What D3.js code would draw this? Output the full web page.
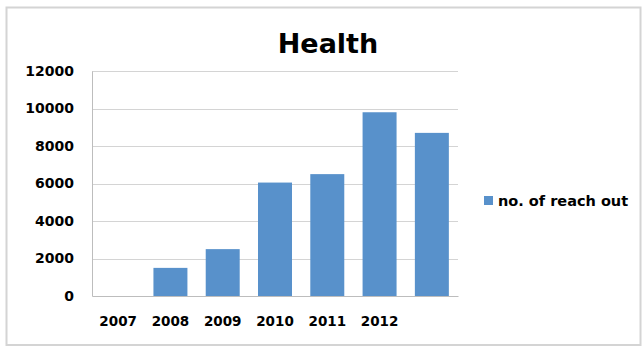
<!DOCTYPE html>
<html>
<head>
<meta charset="utf-8">
<script src="https://cdn.jsdelivr.net/npm/d3@7"></script>
<style>
  body { margin: 0; background: #fff; }
  text { font-family: "DejaVu Sans", sans-serif; font-weight: bold; fill: #000; }
</style>
</head>
<body>
<div class="chart-container"></div>
<script>
// chart data
const years = ["2007", "2008", "2009", "2010", "2011", "2012", ""];
const reachOut = [0, 1500, 2500, 6050, 6500, 9800, 8700];
const yTicks = [0, 2000, 4000, 6000, 8000, 10000, 12000];
const seriesName = "no. of reach out";
const title = "Health";

const width = 642, height = 347;
const plot = { left: 92, right: 458, top: 71, bottom: 296 };
const barColor = "#5891cb";

const svg = d3.select(".chart-container")
  .append("svg")
  .attr("width", width)
  .attr("height", height);

// outer frame
svg.append("rect")
  .attr("x", 6.5).attr("y", 7.5)
  .attr("width", 634).attr("height", 337.5)
  .attr("fill", "#fff")
  .attr("stroke", "#d4d4d4")
  .attr("stroke-width", 2);

const xScale = d3.scaleBand()
  .domain(years)
  .range([plot.left, plot.right])
  .paddingInner(0.35)
  .paddingOuter(0.175);

const yScale = d3.scaleLinear()
  .domain([0, 12000])
  .range([plot.bottom, plot.top]);

// gridlines
svg.append("g")
  .selectAll("line")
  .data(yTicks.filter(d => d > 0))
  .join("line")
  .attr("x1", plot.left).attr("x2", plot.right)
  .attr("y1", d => Math.round(yScale(d)) + 0.5)
  .attr("y2", d => Math.round(yScale(d)) + 0.5)
  .attr("stroke", "#d4d4d4")
  .attr("stroke-width", 1);

// y axis
const yAxis = d3.axisLeft(yScale)
  .tickValues(yTicks)
  .tickFormat(d3.format("d"))
  .tickSize(0)
  .tickPadding(18);
const gy = svg.append("g")
  .attr("transform", "translate(" + plot.left + ",0)")
  .call(yAxis);
gy.select(".domain").attr("stroke", "#bdbdbd");
gy.selectAll("text")
  .style("font-family", "DejaVu Sans, sans-serif")
  .style("font-weight", "bold")
  .style("font-size", "14px")
  .attr("fill", "#000");

// bars
svg.append("g")
  .selectAll("rect")
  .data(reachOut)
  .join("rect")
  .attr("x", (d, i) => xScale(years[i]))
  .attr("y", d => yScale(d))
  .attr("width", xScale.bandwidth())
  .attr("height", d => yScale(0) - yScale(d))
  .attr("fill", barColor);

// x axis
const xAxis = d3.axisBottom(xScale).tickSize(0).tickPadding(20);
const gx = svg.append("g")
  .attr("transform", "translate(0," + plot.bottom + ")")
  .call(xAxis);
gx.select(".domain").attr("stroke", "#bdbdbd");
gx.selectAll("text")
  .style("font-family", "DejaVu Sans, sans-serif")
  .style("font-weight", "bold")
  .style("font-size", "13.5px")
  .attr("fill", "#000");

// title
svg.append("text")
  .attr("x", 328)
  .attr("y", 53)
  .attr("text-anchor", "middle")
  .style("font-size", "27px")
  .text(title);

// legend
const legend = svg.append("g").attr("transform", "translate(484,196)");
legend.append("rect")
  .attr("width", 9).attr("height", 9)
  .attr("fill", barColor);
legend.append("text")
  .attr("x", 14)
  .attr("y", 9.5)
  .style("font-size", "14.5px")
  .text(seriesName);
</script>
</body>
</html>
